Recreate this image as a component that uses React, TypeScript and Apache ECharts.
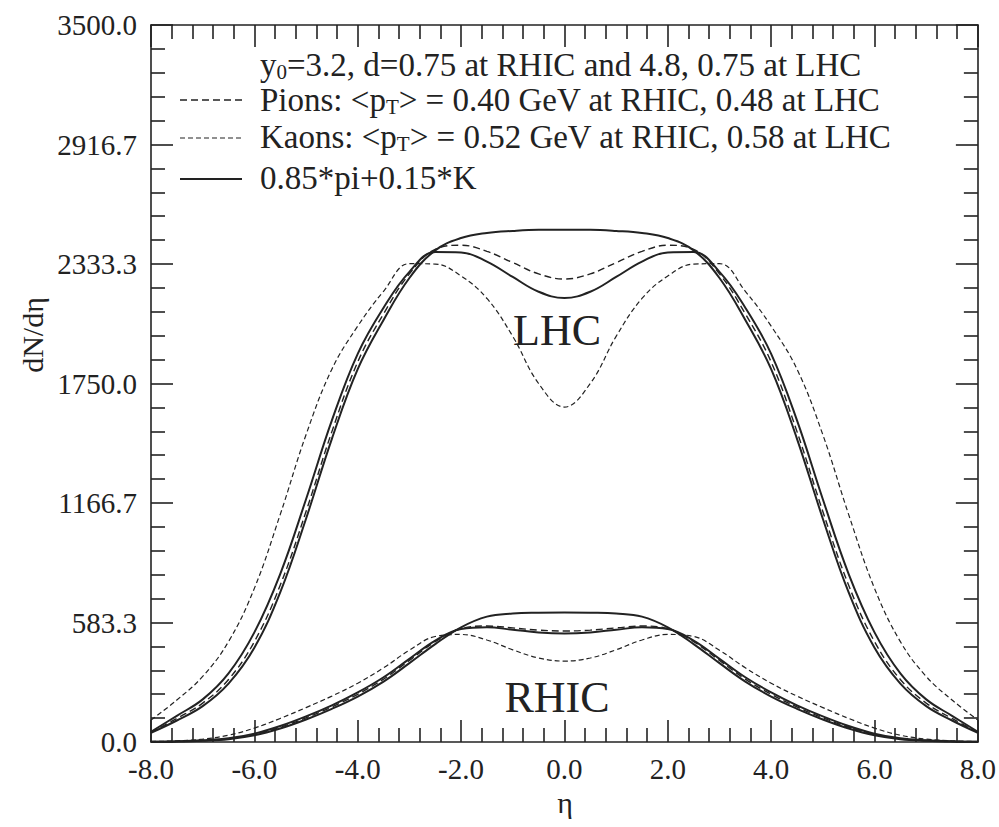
import React, { useEffect, useRef } from "react";
import * as echarts from "echarts";

const ETA = [-8, -7.5, -7, -6.5, -6, -5.5, -5, -4.5, -4, -3.5, -3, -2.5, -2, -1.5, -1, -0.5, 0, 0.5, 1, 1.5, 2, 2.5, 3, 3.5, 4, 4.5, 5, 5.5, 6, 6.5, 7, 7.5, 8];

const LHC_DNDY = [45, 105, 175, 285, 460, 730, 1090, 1480, 1820, 2060, 2265, 2400, 2460, 2485, 2495, 2500, 2500, 2500, 2495, 2485, 2460, 2400, 2265, 2060, 1820, 1480, 1090, 730, 460, 285, 175, 105, 45];
const LHC_PION = [47, 115, 190, 305, 490, 765, 1125, 1515, 1855, 2090, 2285, 2405, 2425, 2395, 2340, 2285, 2260, 2285, 2340, 2395, 2425, 2405, 2285, 2090, 1855, 1515, 1125, 765, 490, 305, 190, 115, 47];
const LHC_MIX = [50, 128, 208, 335, 535, 820, 1185, 1570, 1895, 2120, 2295, 2392, 2390, 2345, 2270, 2198, 2167, 2198, 2270, 2345, 2390, 2392, 2295, 2120, 1895, 1570, 1185, 820, 535, 335, 208, 128, 50];
const LHC_KAON = [107, 205, 320, 490, 750, 1110, 1500, 1820, 2030, 2200, 2335, 2333, 2275, 2165, 1980, 1750, 1635, 1750, 1980, 2165, 2275, 2333, 2335, 2200, 2030, 1820, 1500, 1110, 750, 490, 320, 205, 107];

const RHIC_DNDY = [1, 2, 6, 14, 33, 66, 110, 162, 222, 295, 385, 478, 560, 612, 627, 631, 632, 631, 627, 612, 560, 478, 385, 295, 222, 162, 110, 66, 33, 14, 6, 2, 1];
const RHIC_PION = [1, 3, 7, 16, 37, 72, 118, 171, 233, 307, 398, 490, 553, 566, 557, 546, 542, 546, 557, 566, 553, 490, 398, 307, 233, 171, 118, 72, 37, 16, 7, 3, 1];
const RHIC_MIX = [1, 3, 8, 18, 41, 78, 125, 179, 242, 316, 406, 495, 552, 560, 548, 535, 530, 535, 548, 560, 552, 495, 406, 316, 242, 179, 125, 78, 41, 18, 8, 3, 1];
const RHIC_KAON = [2, 6, 14, 33, 68, 115, 168, 224, 287, 362, 448, 515, 525, 498, 450, 410, 395, 410, 450, 498, 525, 515, 448, 362, 287, 224, 168, 115, 68, 33, 14, 6, 2];

const X_MIN = -8;
const X_MAX = 8;
const X_STEP = 2;
const Y_MIN = 0;
const Y_MAX = 3500;
const Y_STEP = 3500 / 6;

const LEGEND_ROW1 = ["y", "0", "=3.2, d=0.75 at RHIC and 4.8, 0.75 at LHC"];
const LEGEND_PION = ["Pions: <p", "T", "> = 0.40 GeV at RHIC, 0.48 at LHC"];
const LEGEND_KAON = ["Kaons: <p", "T", "> = 0.52 GeV at RHIC, 0.58 at LHC"];
const LEGEND_MIX = "0.85*pi+0.15*K";

const FONT = "'Liberation Serif', 'Times New Roman', Times, serif";
const INK = "#222";

export default function App() {
  const ref = useRef<HTMLDivElement>(null);

  useEffect(() => {
    const chart = echarts.init(ref.current as HTMLDivElement, null, { renderer: "svg" });
    const mk = (vals: number[]) => ETA.map((e, i) => [e, vals[i]]);

    const solid = { color: INK, width: 2, type: "solid" as const };
    const pionDash = { color: INK, width: 1.4, type: [7, 4] as number[] };
    const kaonDash = { color: INK, width: 1.2, type: [5, 3] as number[] };

    const line = (name: string, vals: number[], ls: any) => ({
      name,
      type: "line",
      xAxisIndex: 0,
      yAxisIndex: 0,
      data: mk(vals),
      smooth: 0.4,
      symbol: "none",
      lineStyle: ls,
      silent: true,
    });

    const baseAxis = (extra: any) => ({
      type: "value",
      splitLine: { show: false },
      axisLine: { show: true, onZero: false, lineStyle: { color: INK, width: 1.6 } },
      axisTick: { show: true, inside: true, length: 22, lineStyle: { color: INK, width: 1.6 } },
      minorTick: { show: true, splitNumber: 5, length: 14, lineStyle: { color: INK, width: 1.6 } },
      ...extra,
    });

    const labelStyle = { fontFamily: FONT, fontSize: 29, color: INK };

    const richBase = {
      n: { fontFamily: FONT, fontSize: 33, fill: INK, lineHeight: 34, verticalAlign: "middle" },
      s: { fontFamily: FONT, fontSize: 21, fill: INK, lineHeight: 21, verticalAlign: "bottom" },
    };

    const richText = (parts: string[]) => `{n|${parts[0]}}{s|${parts[1]}}{n|${parts[2]}}`;

    const textEl = (x: number, y: number, text: string) => ({
      type: "text",
      x,
      y,
      silent: true,
      style: {
        text,
        fontFamily: FONT,
        fontSize: 33,
        fill: INK,
        align: "left",
        verticalAlign: "middle",
        rich: richBase,
      },
    });

    chart.setOption({
      animation: false,
      backgroundColor: "#ffffff",
      grid: { left: 151, right: 21, top: 25, bottom: 85, containLabel: false },
      xAxis: [
        baseAxis({
          min: X_MIN,
          max: X_MAX,
          interval: X_STEP,
          position: "bottom",
          axisLabel: { ...labelStyle, margin: 12, formatter: (v: number) => v.toFixed(1) },
        }),
        baseAxis({
          min: X_MIN,
          max: X_MAX,
          interval: X_STEP,
          position: "top",
          axisLabel: { show: false },
        }),
      ],
      yAxis: [
        baseAxis({
          min: Y_MIN,
          max: Y_MAX,
          interval: Y_STEP,
          position: "left",
          axisLabel: { ...labelStyle, margin: 14, formatter: (v: number) => v.toFixed(1) },
        }),
        baseAxis({
          min: Y_MIN,
          max: Y_MAX,
          interval: Y_STEP,
          position: "right",
          axisLabel: { show: false },
        }),
      ],
      graphic: [
        textEl(260, 65, richText(LEGEND_ROW1)),
        { type: "line", silent: true, shape: { x1: 180, y1: 100, x2: 242, y2: 100 }, style: { stroke: INK, lineWidth: 1.4, lineDash: [7, 4] } },
        textEl(260, 100, richText(LEGEND_PION)),
        { type: "line", silent: true, shape: { x1: 180, y1: 138, x2: 242, y2: 138 }, style: { stroke: INK, lineWidth: 1.2, lineDash: [5, 3] } },
        textEl(260, 137, richText(LEGEND_KAON)),
        { type: "line", silent: true, shape: { x1: 180, y1: 179, x2: 242, y2: 179 }, style: { stroke: INK, lineWidth: 2 } },
        textEl(260, 178, `{n|${LEGEND_MIX}}`),
        {
          type: "text",
          x: 557,
          y: 330,
          silent: true,
          style: { text: "LHC", fontFamily: FONT, fontSize: 44, fill: INK, align: "center", verticalAlign: "middle" },
        },
        {
          type: "text",
          x: 557,
          y: 697,
          silent: true,
          style: { text: "RHIC", fontFamily: FONT, fontSize: 44, fill: INK, align: "center", verticalAlign: "middle" },
        },
        {
          type: "text",
          x: 32,
          y: 335,
          rotation: Math.PI / 2,
          silent: true,
          style: { text: "dN/dη", fontFamily: FONT, fontSize: 30, fill: INK, align: "center", verticalAlign: "middle" },
        },
        {
          type: "text",
          x: 565,
          y: 802,
          silent: true,
          style: { text: "η", fontFamily: FONT, fontSize: 30, fill: INK, align: "center", verticalAlign: "middle" },
        },
      ],
      series: [
        line("LHC dN/dy", LHC_DNDY, solid),
        line("LHC pions", LHC_PION, pionDash),
        line("LHC mix", LHC_MIX, solid),
        line("LHC kaons", LHC_KAON, kaonDash),
        line("RHIC dN/dy", RHIC_DNDY, solid),
        line("RHIC pions", RHIC_PION, pionDash),
        line("RHIC mix", RHIC_MIX, solid),
        line("RHIC kaons", RHIC_KAON, kaonDash),
      ],
    });

    return () => chart.dispose();
  }, []);

  return (
    <div
      ref={ref}
      style={{ position: "fixed", left: 0, top: 0, width: 999, height: 827, background: "#fff" }}
    />
  );
}
